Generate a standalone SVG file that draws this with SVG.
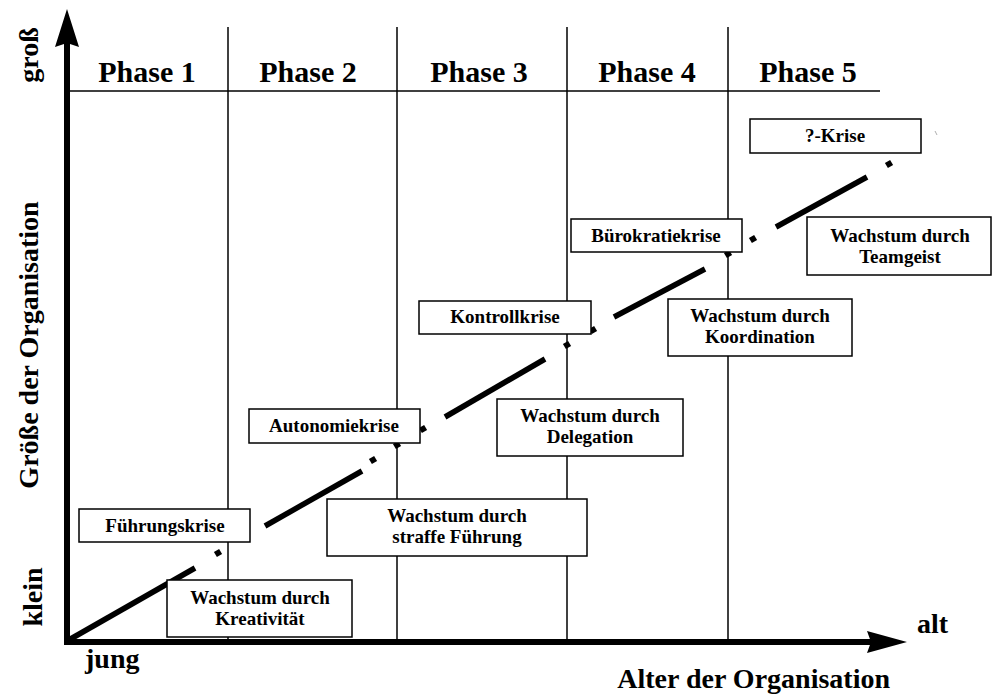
<svg xmlns="http://www.w3.org/2000/svg" width="994" height="696" viewBox="0 0 994 696" font-family="'Liberation Serif', 'Times New Roman', Times, 'DejaVu Serif', serif">
<style>
text{font-family:'Liberation Serif','Times New Roman',Times,'DejaVu Serif',serif;font-weight:bold;fill:#000}
.ph{font-size:30px;text-anchor:middle}
.ax{font-size:28px}
.bt{font-size:19px;text-anchor:middle}
.thin{stroke:#000;stroke-width:1.5;fill:none}
.box{fill:#fff;stroke:#000;stroke-width:1.5}
.dash{stroke:#000;stroke-width:5.5;fill:none;stroke-linecap:butt}
.dot{stroke:#000;stroke-width:6;fill:none;stroke-linecap:butt}
.axis{stroke:#000;stroke-width:6;fill:none}
</style>
<rect width="994" height="696" fill="#fff"/>
<g id="grid">
<line class="thin" x1="67" y1="91" x2="880" y2="91"/>
<line class="thin" x1="228" y1="27" x2="228" y2="642"/>
<line class="thin" x1="397" y1="27" x2="397" y2="642"/>
<line class="thin" x1="567" y1="27" x2="567" y2="642"/>
<line class="thin" x1="728" y1="27" x2="728" y2="642"/>
</g>
<g id="phases">
<text class="ph" x="147" y="82">Phase 1</text>
<text class="ph" x="308" y="82">Phase 2</text>
<text class="ph" x="479" y="82">Phase 3</text>
<text class="ph" x="647" y="82">Phase 4</text>
<text class="ph" x="808" y="82">Phase 5</text>
</g>
<g id="connectors">
<line class="dash" x1="67" y1="641" x2="195" y2="568"/>
<line class="dot" x1="215.4" y1="554.5" x2="220.6" y2="551.5"/>
<line class="dash" x1="265" y1="526" x2="362" y2="471"/>
<line class="dot" x1="370.4" y1="461.5" x2="375.6" y2="458.5"/>
<line class="dot" x1="394.4" y1="446.5" x2="399.6" y2="443.5"/>
<line class="dot" x1="420.4" y1="430.5" x2="425.6" y2="427.5"/>
<line class="dash" x1="445" y1="417" x2="545" y2="359"/>
<line class="dot" x1="564.4" y1="346.5" x2="569.6" y2="343.5"/>
<line class="dot" x1="590.4" y1="331.5" x2="595.6" y2="328.5"/>
<line class="dash" x1="614" y1="317" x2="705" y2="269"/>
<line class="dot" x1="725.4" y1="255.5" x2="730.6" y2="252.5"/>
<line class="dot" x1="750.4" y1="240.5" x2="755.6" y2="237.5"/>
<line class="dash" x1="776" y1="227" x2="867" y2="177"/>
<line class="dot" x1="886.4" y1="165.5" x2="891.6" y2="162.5"/>
<line x1="935" y1="131" x2="937" y2="135" stroke="#999" stroke-width="0.8"/>
</g>
<g id="fuehrungskrise">
<rect class="box" x="79" y="509" width="171" height="33"/>
<text class="bt" x="165" y="532">Führungskrise</text>
</g>
<g id="kreativitaet">
<rect class="box" x="167" y="580" width="185" height="57"/>
<text class="bt" x="260" y="604">Wachstum durch</text>
<text class="bt" x="260" y="625">Kreativität</text>
</g>
<g id="autonomiekrise">
<rect class="box" x="249" y="409" width="171" height="34"/>
<text class="bt" x="334" y="432">Autonomiekrise</text>
</g>
<g id="straffe-fuehrung">
<rect class="box" x="327" y="499" width="260" height="57"/>
<text class="bt" x="457" y="522">Wachstum durch</text>
<text class="bt" x="457" y="543">straffe Führung</text>
</g>
<g id="kontrollkrise">
<rect class="box" x="419" y="301" width="172" height="33"/>
<text class="bt" x="505" y="323">Kontrollkrise</text>
</g>
<g id="delegation">
<rect class="box" x="497" y="399" width="186" height="57"/>
<text class="bt" x="590" y="422">Wachstum durch</text>
<text class="bt" x="590" y="443">Delegation</text>
</g>
<g id="buerokratiekrise">
<rect class="box" x="571" y="219" width="171" height="33"/>
<text class="bt" x="656" y="242">Bürokratiekrise</text>
</g>
<g id="koordination">
<rect class="box" x="668" y="299" width="184" height="57"/>
<text class="bt" x="760" y="322">Wachstum durch</text>
<text class="bt" x="760" y="343">Koordination</text>
</g>
<g id="x-krise">
<rect class="box" x="750" y="119" width="171" height="34"/>
<text class="bt" x="835" y="142">?-Krise</text>
</g>
<g id="teamgeist">
<rect class="box" x="807" y="217" width="184" height="58"/>
<text class="bt" x="900" y="242">Wachstum durch</text>
<text class="bt" x="900" y="263">Teamgeist</text>
</g>
<g id="axes">
<line class="axis" x1="67" y1="645" x2="67" y2="42"/>
<polygon points="67,9 79,47 67,43 55,47" fill="#000"/>
<line class="axis" x1="64" y1="642" x2="872" y2="642"/>
<polygon points="907,642 867,631 871,642 867,653" fill="#000"/>
</g>
<g id="labels">
<text class="ax" transform="translate(38,55) rotate(-90)" text-anchor="middle">groß</text>
<text class="ax" transform="translate(38,345) rotate(-90)" text-anchor="middle">Größe der Organisation</text>
<text class="ax" transform="translate(42,597) rotate(-90)" text-anchor="middle">klein</text>
<text class="ax" x="85" y="668">jung</text>
<text class="ax" x="917" y="633">alt</text>
<text class="ax" x="890" y="688" text-anchor="end">Alter der Organisation</text>
</g>
</svg>
